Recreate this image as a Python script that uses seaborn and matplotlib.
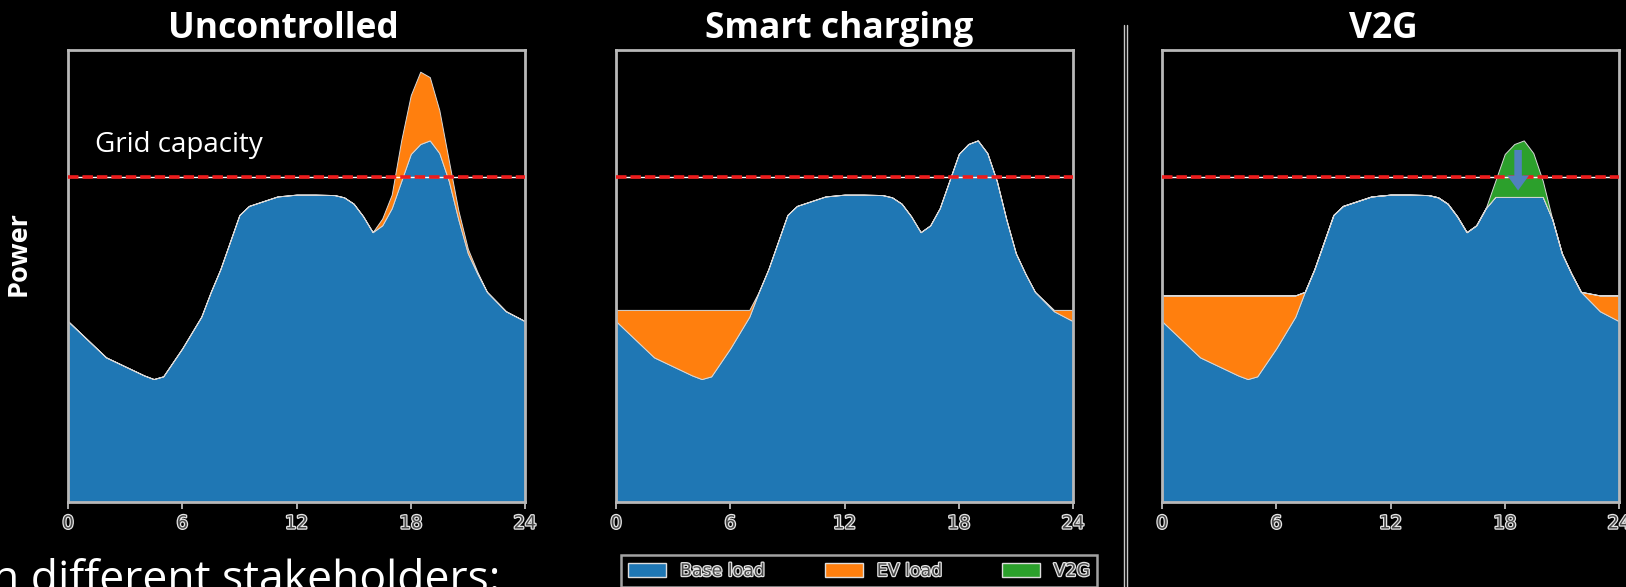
import numpy as np
import seaborn as sns
import matplotlib.pyplot as plt
from matplotlib.lines import Line2D
from matplotlib.patches import Patch
import matplotlib.patheffects as pe

# hour of day
hours = [0, 1, 2, 3, 4, 4.5, 5, 6, 6.5, 7, 7.5, 8, 8.5, 9, 9.5, 10, 11, 12, 13, 14,
         14.5, 15, 15.5, 16, 16.5, 17, 17.5, 18, 18.5, 19, 19.5, 20, 20.5, 21, 21.5,
         22, 23, 24]

# base load (fraction of axis height)
base_load = [0.40, 0.36, 0.32, 0.30, 0.28, 0.272, 0.278, 0.34, 0.375, 0.41, 0.465,
             0.515, 0.575, 0.635, 0.655, 0.662, 0.676, 0.68, 0.68, 0.679,
             0.674, 0.66, 0.632, 0.597, 0.612, 0.65, 0.71, 0.77, 0.792, 0.80, 0.772,
             0.71, 0.625, 0.55, 0.505, 0.465, 0.422, 0.40]

# uncontrolled EV charging on top of base
ev_uncontrolled = [0, 0, 0, 0, 0, 0, 0, 0, 0, 0, 0, 0, 0, 0, 0, 0, 0, 0, 0, 0,
                   0, 0, 0, 0, 0.015, 0.03, 0.09, 0.13, 0.16, 0.14, 0.095, 0.045,
                   0.02, 0.01, 0.004, 0, 0, 0]

# smart charging: valley filling
ev_smart = [0.025, 0.065, 0.105, 0.125, 0.145, 0.153, 0.147, 0.085, 0.05, 0.015, 0,
            0, 0, 0, 0, 0, 0, 0, 0, 0,
            0, 0, 0, 0, 0, 0, 0, 0, 0, 0, 0, 0, 0, 0, 0,
            0, 0.003, 0.025]

# V2G: valley filling plus peak shaving
ev_v2g = [0.057, 0.097, 0.137, 0.157, 0.177, 0.185, 0.179, 0.117, 0.082, 0.047, 0,
          0, 0, 0, 0, 0, 0, 0, 0, 0,
          0, 0, 0, 0, 0, 0, 0, 0, 0, 0, 0, 0, 0, 0, 0,
          0, 0.035, 0.057]
base_v2g = [0.40, 0.36, 0.32, 0.30, 0.28, 0.272, 0.278, 0.34, 0.375, 0.41, 0.465,
            0.515, 0.575, 0.635, 0.655, 0.662, 0.676, 0.68, 0.68, 0.679,
            0.674, 0.66, 0.632, 0.597, 0.612, 0.65, 0.675, 0.675, 0.675, 0.675, 0.675,
            0.675, 0.625, 0.55, 0.505, 0.465, 0.422, 0.40]
v2g_shaved = [0, 0, 0, 0, 0, 0, 0, 0, 0, 0, 0, 0, 0, 0, 0, 0, 0, 0, 0, 0,
              0, 0, 0, 0, 0, 0, 0.035, 0.095, 0.117, 0.125, 0.097, 0.035,
              0, 0, 0, 0, 0, 0]

grid_capacity = 0.72
titles = ['Uncontrolled', 'Smart charging', 'V2G']
xticks = [0, 6, 12, 18, 24]
colors = ['#1f77b4', '#ff7f0e', '#2ca02c']

sns.set_theme(style='dark', rc={'figure.facecolor': 'black', 'axes.facecolor': 'black',
                                'savefig.facecolor': 'black'})
plt.rcParams['font.family'] = ['Open Sans', 'DejaVu Sans']

W, H = 1626, 587
fig = plt.figure(figsize=(W / 100, H / 100), dpi=100)

outline = [pe.Stroke(linewidth=1.8, foreground='#e6e6e6'), pe.Normal()]

lefts = [68, 616, 1162]
title_x = [283, 839, 1383]
series = [
    (base_load, ev_uncontrolled, None),
    (base_load, ev_smart, None),
    (base_v2g, ev_v2g, v2g_shaved),
]

for i, (left, title, (b, ev, v2g)) in enumerate(zip(lefts, titles, series)):
    ax = fig.add_axes([left / W, 85 / H, 457 / W, 452 / H])
    stacks = [b, ev] + ([v2g] if v2g is not None else [])
    ax.stackplot(hours, *stacks, colors=colors[:len(stacks)],
                 edgecolor='#d8d8d8', linewidth=0.7)
    ax.axhline(grid_capacity, color='white', lw=1.0, zorder=3)
    ax.axhline(grid_capacity, color='#ee1c1c', lw=2.6, ls=(0, (2.9, 1.1)), zorder=4)
    ax.set_xlim(0, 24)
    ax.set_ylim(0, 1)
    ax.set_xticks(xticks)
    ax.set_yticks([])
    ax.tick_params(axis='x', bottom=True, length=5, width=1.2, color='#cccccc',
                   labelsize=13, labelcolor='#4a4a4a', pad=4)
    for lab in ax.get_xticklabels():
        lab.set_family('DejaVu Sans')
        lab.set_path_effects(outline)
    for sp in ax.spines.values():
        sp.set_visible(True)
        sp.set_color('#b8b8b8')
        sp.set_linewidth(2.0)
    fig.text(title_x[i] / W, 1 - 38 / H, title, ha='center', va='baseline',
             color='white', fontsize=25.5, fontweight='bold')

    if i == 0:
        ax.text(1.4, 0.79, 'Grid capacity', color='white', fontsize=20, va='center')
    if i == 2:
        ax.annotate('', xy=(18.7, 0.683), xytext=(18.7, 0.785),
                    arrowprops=dict(arrowstyle='simple,head_length=0.9,head_width=1.3,tail_width=0.45',
                                    color='#4f81bd', lw=0),
                    zorder=5)

fig.text(19 / W, 1 - 254 / H, 'Power', rotation=90, ha='center', va='center',
         color='white', fontsize=19.5, fontweight='bold')

# separator between panels
for xs in (1123.5, 1126.5):
    fig.add_artist(Line2D([xs / W, xs / W], [0, 1 - 25 / H], color='#c8c8c8', lw=1.0))

handles = [Patch(facecolor=c, edgecolor='#dddddd', label=l)
           for c, l in zip(colors, ['Base load', 'EV load', 'V2G'])]
leg = fig.legend(handles=handles, loc='upper left',
                 bbox_to_anchor=(621 / W, 1 - 555 / H, 476 / W, 0), mode='expand',
                 ncol=3, frameon=True, facecolor='black', edgecolor='#cccccc',
                 fancybox=False, borderaxespad=0,
                 handlelength=2.2, handleheight=0.8, prop={'family': 'DejaVu Sans', 'size': 12.5})
leg.get_frame().set_linewidth(1.8)
for t in leg.get_texts():
    t.set_color('#4a4a4a')
    t.set_path_effects(outline)

fig.text(-8 / W, 1 - 558 / H, 'n different stakeholders:', ha='left', va='top',
         color='white', fontsize=32)

fig.savefig('out.png', dpi=100)
